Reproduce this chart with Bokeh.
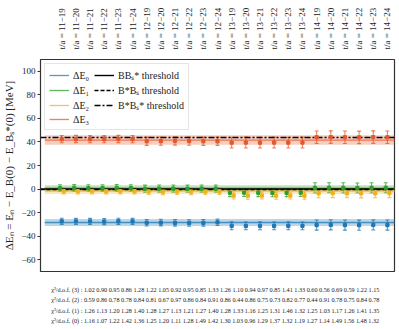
import numpy as np
from bokeh.plotting import figure
from bokeh.models import (ColumnDataSource, Whisker, TeeHead, FixedTicker, LinearAxis,
                          Legend, LegendItem, Range1d)
from bokeh.layouts import column
from bokeh.embed import file_html
from bokeh.resources import INLINE
from bokeh.core.properties import value

# ---------------- data ----------------
tick_labels = [
    "t/a = 11−19", "t/a = 11−20", "t/a = 11−21", "t/a = 11−22", "t/a = 11−23", "t/a = 11−24",
    "t/a = 12−19", "t/a = 12−20", "t/a = 12−21", "t/a = 12−22", "t/a = 12−23", "t/a = 12−24",
    "t/a = 13−19", "t/a = 13−20", "t/a = 13−21", "t/a = 13−22", "t/a = 13−23", "t/a = 13−24",
    "t/a = 14−19", "t/a = 14−20", "t/a = 14−21", "t/a = 14−22", "t/a = 14−23", "t/a = 14−24",
]

dE0 = [-27.4, -27.5, -27.5, -27.6, -27.4, -27.5,
       -28.6, -28.5, -28.7, -28.8, -28.7, -28.2,
       -31.2, -31.3, -31.2, -31.3, -31.2, -31.3,
       -30.6, -30.4, -30.6, -30.7, -30.5, -30.6]
dE0_err = [2.6, 2.6, 2.6, 2.6, 2.6, 2.6,
           2.8, 2.8, 2.8, 2.8, 2.8, 2.8,
           3.3, 3.3, 3.3, 3.3, 3.3, 3.3,
           4.3, 4.3, 4.3, 4.3, 4.3, 4.3]

dE1 = [0.8, 0.9, 0.8, 0.8, 0.9, 0.8,
       0.3, 0.4, 0.4, 0.3, 0.4, 0.4,
       -3.2, -3.1, -3.2, -3.3, -3.2, -3.1,
       1.0, 1.1, 1.0, 0.9, 1.0, 1.1]
dE1_err = [2.9, 2.9, 2.9, 2.9, 2.9, 2.9,
           3.0, 3.0, 3.0, 3.0, 3.0, 3.0,
           3.2, 3.2, 3.2, 3.2, 3.2, 3.2,
           4.3, 4.3, 4.3, 4.3, 4.3, 4.3]

dE2 = [-1.7, -1.8, -1.8, -1.7, -1.8, -1.8,
       -2.0, -2.1, -2.0, -2.1, -2.0, -1.9,
       -5.5, -5.6, -5.5, -5.6, -5.5, -5.6,
       -3.6, -3.5, -3.6, -3.7, -3.6, -3.5]
dE2_err = [2.4, 2.4, 2.4, 2.4, 2.4, 2.4,
           2.6, 2.6, 2.6, 2.6, 2.6, 2.6,
           3.0, 3.0, 3.0, 3.0, 3.0, 3.0,
           3.8, 3.8, 3.8, 3.8, 3.8, 3.8]

dE3 = [42.4, 42.5, 42.4, 42.4, 42.5, 42.4,
       40.6, 40.7, 40.8, 40.7, 40.6, 40.6,
       39.4, 39.5, 39.4, 39.5, 39.4, 39.5,
       44.0, 44.1, 44.0, 43.9, 44.1, 44.0]
dE3_err = [3.1, 3.1, 3.1, 3.1, 3.1, 3.1,
           3.5, 3.5, 3.5, 3.5, 3.5, 3.5,
           4.6, 4.6, 4.6, 4.6, 4.6, 4.6,
           5.3, 5.3, 5.3, 5.3, 5.3, 5.3]

# fitted bands: centre, half-width
band_centre = [-28.4, 0.8, -1.8, 41.6]
band_half = [3.0, 2.5, 2.5, 4.0]

thresholds = [0.0, -0.5, 43.8]   # BB*s, B*Bs, B*B*s
threshold_labels = ["BBₛ* threshold", "B*Bₛ threshold", "B*Bₛ* threshold"]
series_labels = ["ΔE₀", "ΔE₁", "ΔE₂", "ΔE₃"]

chi2_3 = [1.02, 0.90, 0.95, 0.86, 1.28, 1.22, 1.05, 0.92, 0.95, 0.85, 1.33, 1.26,
          1.10, 0.94, 0.97, 0.85, 1.41, 1.33, 0.60, 0.56, 0.69, 0.59, 1.22, 1.15]
chi2_2 = [0.59, 0.86, 0.78, 0.78, 0.84, 0.81, 0.67, 0.97, 0.86, 0.84, 0.91, 0.86,
          0.44, 0.86, 0.75, 0.73, 0.82, 0.77, 0.44, 0.91, 0.78, 0.75, 0.84, 0.78]
chi2_1 = [1.26, 1.13, 1.20, 1.28, 1.40, 1.28, 1.27, 1.13, 1.21, 1.27, 1.40, 1.28,
          1.33, 1.16, 1.25, 1.31, 1.46, 1.32, 1.25, 1.03, 1.17, 1.26, 1.41, 1.35]
chi2_0 = [1.16, 1.07, 1.22, 1.42, 1.36, 1.25, 1.20, 1.11, 1.28, 1.49, 1.42, 1.30,
          1.03, 0.96, 1.29, 1.37, 1.32, 1.19, 1.27, 1.14, 1.49, 1.56, 1.48, 1.32]

# ---------------- style ----------------
colors = ["#1f77b4", "#2ca02c", "#f2b01e", "#e4582a"]
offsets = [0.0, -0.12, 0.14, 0.0]
SERIF = "Liberation Serif"

n = len(tick_labels)
idx = np.arange(n)
x_lo, x_hi = -1.5, n - 0.5
band_x = [-1.2, n - 1 + 1.2]

p = figure(width=399, height=274, x_range=Range1d(x_lo, x_hi), y_range=Range1d(-70, 110),
           output_backend="svg", toolbar_location=None, x_axis_location=None,
           min_border_left=38, min_border_right=5, min_border_top=59, min_border_bottom=3)
p.xgrid.visible = False
p.ygrid.visible = False
p.outline_line_color = "#333333"
p.outline_line_width = 1.2
p.background_fill_color = "white"
p.border_fill_color = "white"

# y axis
yt = [-60, -40, -20, 0, 20, 40, 60, 80, 100]
p.yaxis.ticker = FixedTicker(ticks=yt)
p.yaxis.major_label_overrides = {t: (f"−{abs(t)}" if t < 0 else str(t)) for t in yt}
p.yaxis.minor_tick_line_color = None
p.yaxis.major_tick_out = 3
p.yaxis.major_tick_in = 0
p.yaxis.axis_line_color = "#333333"
p.yaxis.major_tick_line_color = "#333333"
p.yaxis.major_label_text_font = SERIF
p.yaxis.major_label_text_font_size = "9px"
p.yaxis.major_label_text_color = "#222222"
p.yaxis.major_label_standoff = 2
p.yaxis.axis_label = "ΔEₙ = Eₙ − E_B(0) − E_Bₛ*(0) [MeV]"
p.yaxis.axis_label_text_font = SERIF
p.yaxis.axis_label_text_font_size = "11px"
p.yaxis.axis_label_text_font_style = "normal"
p.yaxis.axis_label_text_color = "#222222"
p.yaxis.axis_label_standoff = 3

# top axis with the fit-window labels
top = LinearAxis(ticker=FixedTicker(ticks=list(range(n))),
                 major_label_overrides={i: lab for i, lab in enumerate(tick_labels)},
                 major_label_orientation="vertical")
top.axis_line_color = None
top.major_tick_line_color = None
top.minor_tick_line_color = None
top.major_label_text_font = SERIF
top.major_label_text_font_size = "9px"
top.major_label_text_color = "#222222"
top.major_label_standoff = 4
p.add_layout(top, "above")

series = [dE0, dE1, dE2, dE3]
errs = [dE0_err, dE1_err, dE2_err, dE3_err]
legend_items = []
for k in range(4):
    c = colors[k]
    lo = band_centre[k] - band_half[k]
    hi = band_centre[k] + band_half[k]
    p.varea(x=band_x, y1=[lo, lo], y2=[hi, hi], fill_color=c, fill_alpha=0.3)
    r_line = p.line(x=band_x, y=[band_centre[k]] * 2, line_color=c, line_alpha=0.75, line_width=1.3)
    legend_items.append(LegendItem(label=series_labels[k], renderers=[r_line]))

# threshold lines
dashes = ["solid", "4 2", "6 2 2 2"]
thr_items = []
for t, d, lab in zip(thresholds, dashes, threshold_labels):
    r = p.line(x=[x_lo, x_hi], y=[t, t], line_color="black", line_width=1.4, line_dash=d)
    thr_items.append(LegendItem(label=lab, renderers=[r]))

for k in range(4):
    c = colors[k]
    y = np.array(series[k])
    e = np.array(errs[k])
    src = ColumnDataSource(dict(x=idx + offsets[k], y=y, lower=y - e, upper=y + e))
    w = Whisker(source=src, base="x", lower="lower", upper="upper", dimension="height",
                line_color=c, line_alpha=0.75, line_width=1.1,
                upper_head=TeeHead(size=4, line_color=c, line_alpha=0.75, line_width=1.1),
                lower_head=TeeHead(size=4, line_color=c, line_alpha=0.75, line_width=1.1))
    p.add_layout(w)
    p.scatter("x", "y", source=src, marker="square", size=3.2, fill_color=c, line_color=c)

legend = Legend(items=legend_items + thr_items, location="top_left", ncols=2,
                orientation="vertical")
legend.label_text_font = SERIF
legend.label_text_font_size = "10px"
legend.label_text_color = "#222222"
legend.glyph_width = 20
legend.glyph_height = 12
legend.label_height = 12
legend.spacing = 1
legend.padding = 4
legend.margin = 4
legend.label_standoff = 4
legend.border_line_color = "#cccccc"
legend.border_line_width = 1
legend.background_fill_alpha = 0.85
p.add_layout(legend)

# chi^2 table below the plot
p2 = figure(width=399, height=55, x_range=Range1d(0, 399), y_range=Range1d(-0.85, 4.44),
            output_backend="svg", toolbar_location=None, x_axis_location=None,
            y_axis_location=None, min_border=0)
p2.xgrid.visible = False
p2.ygrid.visible = False
p2.outline_line_color = None
rows = [chi2_3, chi2_2, chi2_1, chi2_0]
row_ids = [3, 2, 1, 0]
texts = [f"χ²/d.o.f. ({r}) :  " + " ".join(f"{v:.2f}" for v in vals) for r, vals in zip(row_ids, rows)]
p2.text(x=[12] * 4, y=row_ids, text=texts, text_font=value(SERIF), text_font_size="6.2px",
        text_baseline="middle", text_align="left", text_color="#222222")

layout = column(p, p2, spacing=0)
open("out.html", "w").write(file_html(layout, INLINE))
